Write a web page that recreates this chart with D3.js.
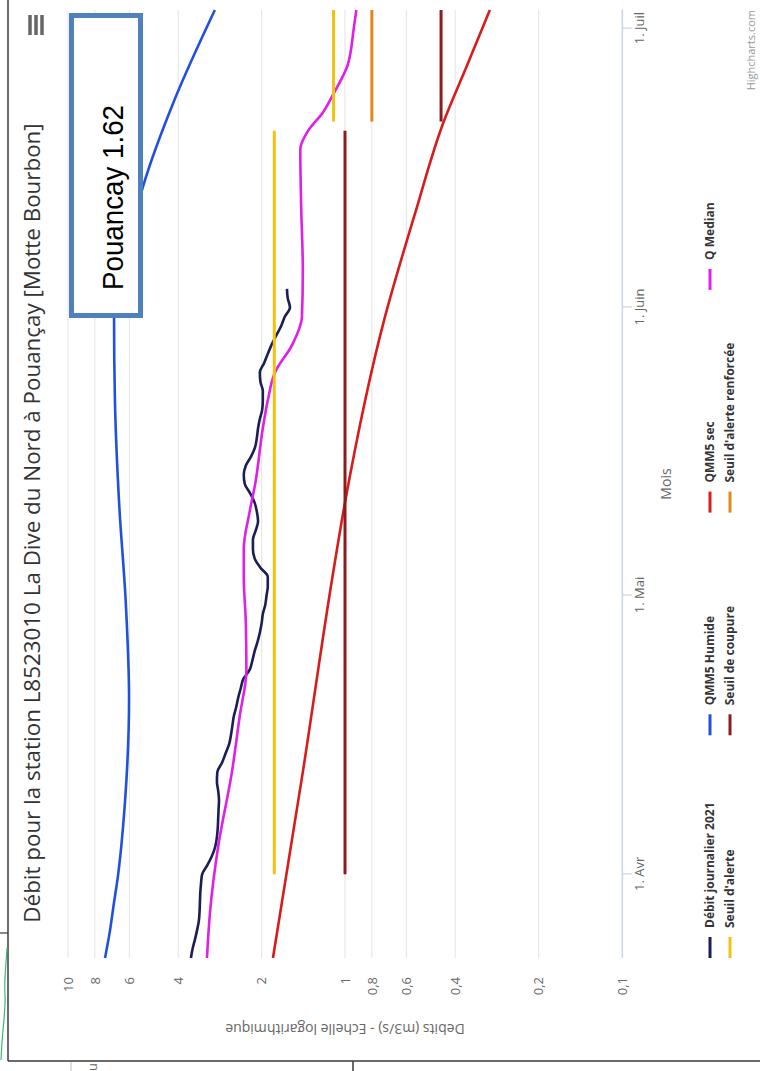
<!DOCTYPE html>
<html><head><meta charset="utf-8">
<script src="https://cdn.jsdelivr.net/npm/d3@7"></script>
<style>body{margin:0;background:#fff}svg{display:block;background:#fff}</style>
</head><body>
<svg id="c" width="760" height="1071"></svg>
<script>
// ---------------- DATA ----------------
const titleText = "Débit pour la station L8523010 La Dive du Nord à Pouançay [Motte Bourbon]";
const dailyStart = "2021-03-23";
const dailyValues = [3.60,3.55,3.48,3.42,3.37,3.35,3.34,3.33,3.31,3.28,
 3.14,3.02,2.94,2.90,2.88,2.87,2.86,2.85,2.87,2.90,
 2.89,2.78,2.70,2.62,2.58,2.55,2.52,2.47,2.43,2.38,
 2.33,2.21,2.16,2.12,2.07,2.03,2.00,1.98,1.94,1.92,
 1.90,1.90,2.02,2.12,2.15,2.15,2.10,2.06,2.08,2.12,
 2.20,2.30,2.32,2.28,2.18,2.11,2.08,2.06,2.03,1.99,
 1.98,1.98,2.02,2.03,1.96,1.90,1.84,1.77,1.70,1.65,
 1.58,1.61,1.62];
const humideDates = ["2021-03-23","2021-03-26","2021-03-29","2021-03-31","2021-04-09","2021-04-20","2021-04-30","2021-05-11","2021-05-22","2021-05-31","2021-06-07","2021-06-14","2021-06-23","2021-07-03"];
const humideValues = [7.35,7.05,6.82,6.66,6.22,6.02,6.18,6.54,6.77,6.82,6.1,5.36,4.17,2.95];
const secDates = ["2021-03-23","2021-04-12","2021-05-03","2021-05-11","2021-05-31","2021-06-11","2021-06-21","2021-06-27","2021-07-03"];
const secValues = [1.82,1.42,1.11,1.0,0.717,0.56,0.44,0.363,0.30];
const medianDates = ["2021-03-23","2021-03-28","2021-04-04","2021-04-12","2021-04-18","2021-04-23","2021-04-28","2021-05-03","2021-05-06","2021-05-10","2021-05-13","2021-05-19","2021-05-22","2021-05-25","2021-05-28","2021-05-31","2021-06-05","2021-06-12","2021-06-18","2021-06-20","2021-06-22","2021-06-24","2021-06-27","2021-07-01","2021-07-03"];
const medianValues = [3.15,3.07,2.87,2.56,2.40,2.27,2.28,2.32,2.32,2.21,2.11,1.98,1.90,1.79,1.55,1.43,1.42,1.44,1.45,1.36,1.20,1.10,0.98,0.93,0.91];
const seuilAlerteStart = ["2021-04-01","2021-06-21"];
const seuilAlerteEnd   = ["2021-06-20","2021-07-03"];
const seuilAlerteValues = [1.8,1.1];
const seuilCoupureStart = ["2021-04-01","2021-06-21"];
const seuilCoupureEnd   = ["2021-06-20","2021-07-03"];
const seuilCoupureValues = [1.0,0.45];
const seuilRenfStart = ["2021-06-21"];
const seuilRenfEnd   = ["2021-07-03"];
const seuilRenfValues = [0.8];
const yTicks = [0.1,0.2,0.4,0.6,0.8,1,2,4,6,8,10];
const yTickLabels = ["0,1","0,2","0,4","0,6","0,8","1","2","4","6","8","10"];
const monthTicks = ["2021-04-01","2021-05-01","2021-06-01","2021-07-01"];
const monthLabels = ["1. Avr","1. Mai","1. Juin","1. Juil"];
const seriesNames = ["Débit journalier 2021","QMM5 Humide","QMM5 sec","Q Median","Seuil d'alerte","Seuil de coupure","Seuil d'alerte renforcée"];
const seriesColors = ["#1b1d55","#2150e0","#d81c1c","#e020e6","#f2c20e","#8c1c1c","#dd8a18"];
const annotationText = "Pouancay 1.62";

// ---------------- DRAW ----------------
const parse = d3.timeParse("%Y-%m-%d");
const svg = d3.select("#c");
const FONT = "'Open Sans', 'DejaVu Sans', sans-serif";

// background scraps of the underlying screenshot
svg.append("line").attr("x1",8).attr("x2",8).attr("y1",0).attr("y2",1061).attr("stroke","#3a3a3a").attr("stroke-width",1.5);
svg.append("line").attr("x1",8).attr("x2",760).attr("y1",1061).attr("y2",1061).attr("stroke","#3a3a3a").attr("stroke-width",1.5);
svg.append("line").attr("x1",0).attr("x2",8).attr("y1",933).attr("y2",933).attr("stroke","#3a3a3a").attr("stroke-width",1.2);
svg.append("line").attr("x1",353).attr("x2",353).attr("y1",1061).attr("y2",1071).attr("stroke","#3a3a3a").attr("stroke-width",1.5);
svg.append("line").attr("x1",71).attr("x2",71).attr("y1",1062).attr("y2",1071).attr("stroke","#d0d4dc").attr("stroke-width",1.5);
svg.append("path").attr("d","M7,948 C6,965 4,980 5,995 S2,1030 1,1060").attr("fill","none").attr("stroke","#3cb878").attr("stroke-width",1.2);
svg.append("text").attr("transform","translate(97,1067) rotate(-90)").attr("text-anchor","middle").attr("font-family",FONT).attr("font-size",13).attr("fill","#666").text("u");

const g = svg.append("g").attr("transform","translate(0,1071) rotate(-90)");
const x = d3.scaleTime().domain([parse("2021-03-23"), parse("2021-07-03")]).range([113,1061]);
const y = d3.scaleLog().domain([0.1,10]).range([622,68]);

// grid
g.append("g").selectAll("line").data(yTicks).join("line")
  .attr("x1",113).attr("x2",1061).attr("y1",d=>y(d)).attr("y2",d=>y(d))
  .attr("stroke","#e8e8e8").attr("stroke-width",1.2);

// y axis labels
const ya = g.append("g").attr("transform","translate(113,0)")
  .call(d3.axisLeft(y).tickValues(yTicks).tickFormat((d,i)=>yTickLabels[i]).tickSize(0).tickPadding(19));
ya.select(".domain").remove();
ya.selectAll("text").attr("font-family",FONT).attr("font-size",13).attr("fill","#666");

// x axis
const xa = g.append("g").attr("transform","translate(0,622)")
  .call(d3.axisBottom(x).tickValues(monthTicks.map(parse)).tickFormat((d,i)=>monthLabels[i]).tickSize(10).tickSizeOuter(0).tickPadding(3));
xa.select(".domain").attr("stroke","#ccd6eb").attr("stroke-width",1.3);
xa.selectAll(".tick line").attr("stroke","#ccd6eb").attr("stroke-width",1.3);
xa.selectAll("text").attr("font-family",FONT).attr("font-size",13).attr("fill","#666");

// axis titles
g.append("text").attr("x",587).attr("y",671).attr("text-anchor","middle")
  .attr("font-family",FONT).attr("font-size",14).attr("fill","#666").text("Mois");
g.append("text").attr("transform","translate(42,345) rotate(-90)").attr("text-anchor","middle").attr("dy","0.35em")
  .attr("font-family",FONT).attr("font-size",14).attr("fill","#666").text("Debits (m3/s) - Echelle logarithmique");

// series
const line = d3.line().x(d=>x(d.date)).y(d=>y(d.v)).curve(d3.curveMonotoneX);
const s0 = parse(dailyStart);
const daily = dailyValues.map((v,i)=>({date:d3.timeDay.offset(s0,i), v}));
const humide = humideDates.map((d,i)=>({date:parse(d), v:humideValues[i]}));
const sec = secDates.map((d,i)=>({date:parse(d), v:secValues[i]}));
const median = medianDates.map((d,i)=>({date:parse(d), v:medianValues[i]}));
const seg = (st,en,vals)=>vals.map((v,i)=>[{date:parse(st[i]),v},{date:parse(en[i]),v}]);

const SW = 2.6;
g.append("path").datum(daily).attr("d",line).attr("fill","none").attr("stroke",seriesColors[0]).attr("stroke-width",SW);
g.append("path").datum(humide).attr("d",line).attr("fill","none").attr("stroke",seriesColors[1]).attr("stroke-width",SW);
g.append("path").datum(sec).attr("d",line).attr("fill","none").attr("stroke",seriesColors[2]).attr("stroke-width",SW);
g.append("path").datum(median).attr("d",line).attr("fill","none").attr("stroke",seriesColors[3]).attr("stroke-width",SW);
[[seuilAlerteStart,seuilAlerteEnd,seuilAlerteValues,4],[seuilCoupureStart,seuilCoupureEnd,seuilCoupureValues,5],[seuilRenfStart,seuilRenfEnd,seuilRenfValues,6]]
 .forEach(([st,en,vals,ci])=>{
   g.append("g").selectAll("path").data(seg(st,en,vals)).join("path")
    .attr("d",d3.line().x(d=>x(d.date)).y(d=>y(d.v))).attr("fill","none")
    .attr("stroke",seriesColors[ci]).attr("stroke-width",SW+0.4);
 });

// legend
const lg = g.append("g");
seriesNames.forEach((n,i)=>{
  const col=i%4, row=Math.floor(i/4);
  const lx = 113 + col*222.7, ly = 710 + row*20;
  lg.append("line").attr("x1",lx).attr("x2",lx+21).attr("y1",ly).attr("y2",ly).attr("stroke",seriesColors[i]).attr("stroke-width",3);
  lg.append("text").attr("x",lx+30).attr("y",ly).attr("dy","0.35em").attr("font-family",FONT).attr("font-weight","bold")
    .attr("font-size",12).attr("fill","#333").text(n);
});

// title
const t = g.append("text").attr("x",548).attr("y",40).attr("text-anchor","middle")
  .attr("font-family",FONT).attr("font-size",20).attr("fill","#333").text(titleText);
const tl = t.node().getComputedTextLength();
t.attr("font-size", 20*800/tl);

// credits
g.append("text").attr("x",1061).attr("y",755).attr("text-anchor","end").attr("font-family",FONT)
  .attr("font-size",11).attr("fill","#999").text("Highcharts.com");

// context button
[30,36,42].forEach(yy=>g.append("line").attr("x1",1036).attr("x2",1056).attr("y1",yy).attr("y2",yy).attr("stroke","#666").attr("stroke-width",3.5));

// annotation box
g.append("rect").attr("x",755.5).attr("y",71.5).attr("width",300).attr("height",69)
  .attr("fill","#fff").attr("stroke","#4f81bd").attr("stroke-width",5);
g.append("text").attr("x",781).attr("y",123).attr("font-family","'Liberation Sans', Arial, sans-serif")
  .attr("font-size",29).attr("fill","#000").attr("textLength",185).attr("lengthAdjust","spacingAndGlyphs").text(annotationText);
</script>
</body></html>
